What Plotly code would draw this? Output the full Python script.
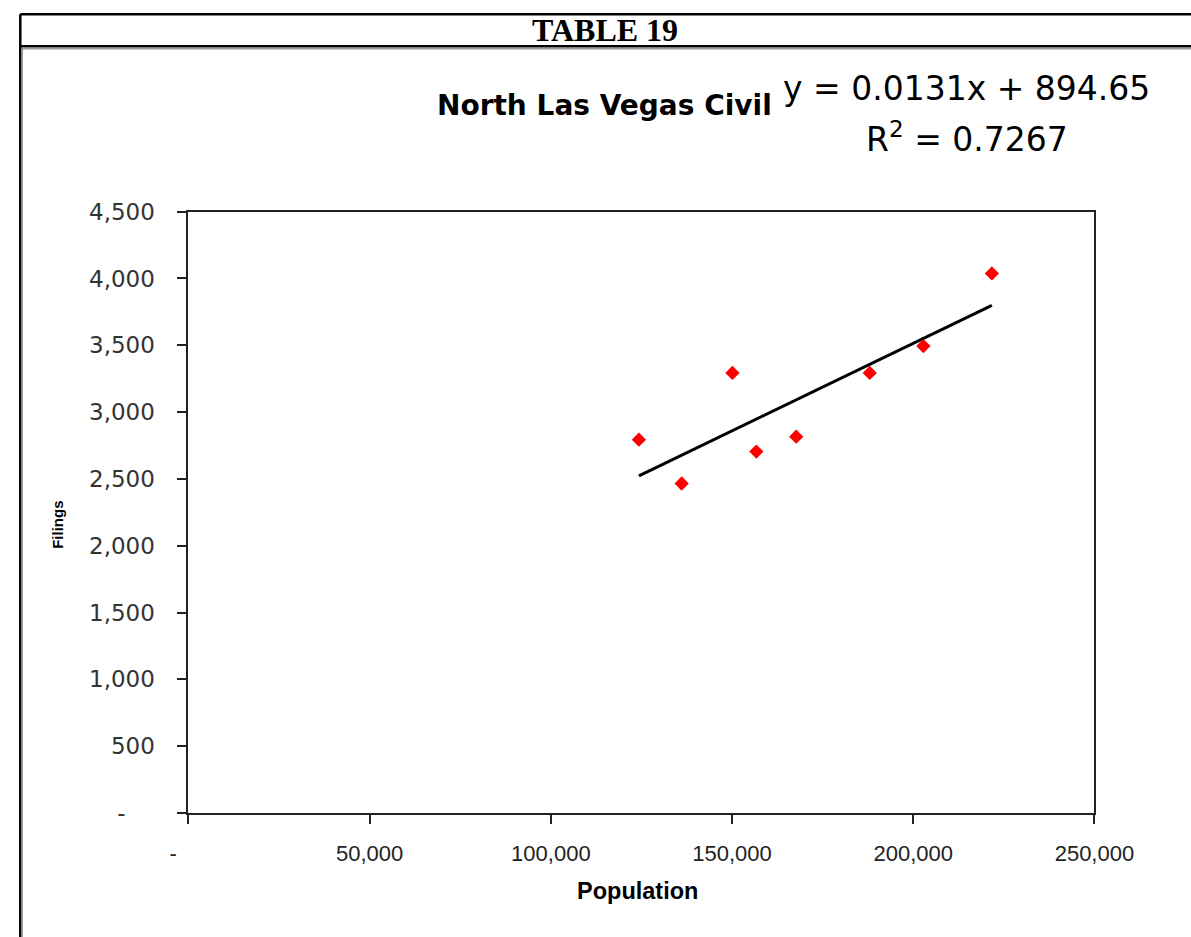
import plotly.graph_objects as go

# Annual population vs. civil filings
population = [124300, 136100, 150100, 156700, 167700, 188000, 202800, 221700]
filings = [2794, 2466, 3293, 2705, 2816, 3293, 3494, 4038]

# Linear trend reported on the chart
slope = 0.0131
intercept = 894.65
r_squared = 0.7267

NB = "\u00a0"
x_ticks = [0, 50000, 100000, 150000, 200000, 250000]
x_tick_text = ["-" + NB * 5, "50,000", "100,000", "150,000", "200,000", "250,000"]
y_ticks = [0, 500, 1000, 1500, 2000, 2500, 3000, 3500, 4000, 4500]
y_tick_text = ["-" + NB * 4, "500", "1,000", "1,500", "2,000", "2,500", "3,000", "3,500", "4,000", "4,500"]

# Page layout: positions are given in page pixels and converted to paper fractions
GW, GH = 1191, 937
FIG_W, FIG_H = 1233, 959


def gx(x):
    return (x - 13.2) / 0.9934


def gy(y):
    return y - 10.5


def px(x, clamp=None):
    v = gx(x)
    if clamp is not None:
        v = max(v, clamp)
    return v / GW


def py(y, clamp=None):
    v = gy(y)
    if clamp is not None:
        v = max(v, clamp)
    return 1 - v / GH


trend_x = [min(population), max(population)]
trend_y = [slope * v + intercept for v in trend_x]

fig = go.Figure()
fig.add_trace(go.Scatter(
    x=trend_x, y=trend_y, mode="lines",
    line=dict(color="black", width=3), hoverinfo="skip", showlegend=False,
))
fig.add_trace(go.Scatter(
    x=population, y=filings, mode="markers",
    marker=dict(symbol="diamond", color="#FF0000", size=11, line=dict(width=0)),
    showlegend=False,
))

sans = "Liberation Sans, Arial, sans-serif"
wide = "DejaVu Sans, Verdana, sans-serif"


def note(text, x, y, size, family, bold=False, angle=0):
    return dict(
        text=f"<b>{text}</b>" if bold else text,
        xref="paper", yref="paper", x=px(x), y=py(y),
        xanchor="center", yanchor="middle", textangle=angle,
        showarrow=False, font=dict(family=family, size=size, color="black"),
    )


def hline(y, color, width, x0=7):
    return dict(type="line", xref="paper", yref="paper",
                x0=px(x0, clamp=1.3), x1=1, y0=py(y, clamp=1.3), y1=py(y, clamp=1.3),
                line=dict(color=color, width=width))


def vline(x, y0, color, width):
    return dict(type="line", xref="paper", yref="paper",
                x0=px(x, clamp=1.3), x1=px(x, clamp=1.3), y0=py(y0, clamp=1.3), y1=0,
                line=dict(color=color, width=width))


fig.update_layout(
    width=FIG_W, height=FIG_H,
    margin=dict(l=0, r=0, t=0, b=0),
    paper_bgcolor="white", plot_bgcolor="white",
    xaxis=dict(
        domain=[px(184), px(1097)], range=[0, 250000],
        tickvals=x_ticks, ticktext=x_tick_text,
        ticks="outside", ticklen=9, tickwidth=2, tickcolor="#222",
        showline=True, linewidth=2, linecolor="#222", mirror=True,
        showgrid=False, zeroline=False, ticklabelstandoff=11,
        tickfont=dict(family=sans, size=22, color="#222"),
    ),
    yaxis=dict(
        domain=[py(814), py(210)], range=[0, 4500],
        tickvals=y_ticks, ticktext=y_tick_text,
        ticks="outside", ticklen=9, tickwidth=2, tickcolor="#222",
        showline=True, linewidth=2, linecolor="#222", mirror=True,
        showgrid=False, zeroline=False, ticklabelstandoff=18,
        tickfont=dict(family=wide, size=23, color="#333"),
    ),
    shapes=[
        hline(10, "black", 2.5),
        hline(44, "black", 2.5),
        hline(46.5, "#999", 1.5, x0=9),
        vline(7, 9, "black", 2.5),
        dict(type="line", xref="paper", yref="paper",
             x0=px(7, clamp=1.3) + 2 / GW, x1=px(7, clamp=1.3) + 2 / GW,
             y0=py(46), y1=0, line=dict(color="#999", width=1.5)),
    ],
    annotations=[
        note("TABLE 19", 604, 28, 32, "Liberation Serif, Times New Roman, serif", bold=True),
        note("North Las Vegas Civil", 603, 103, 28, wide, bold=True),
        note(f"y = {slope}x + {intercept}", 968, 86, 33, wide),
        note(f"R<sup>2</sup> = {r_squared}", 969, 136, 33, wide),
        note("Population", 637, 892, 23.5, sans, bold=True),
        note("Filings", 52, 525, 15, sans, bold=True, angle=-90),
    ],
)

fig.write_html("out.html")
